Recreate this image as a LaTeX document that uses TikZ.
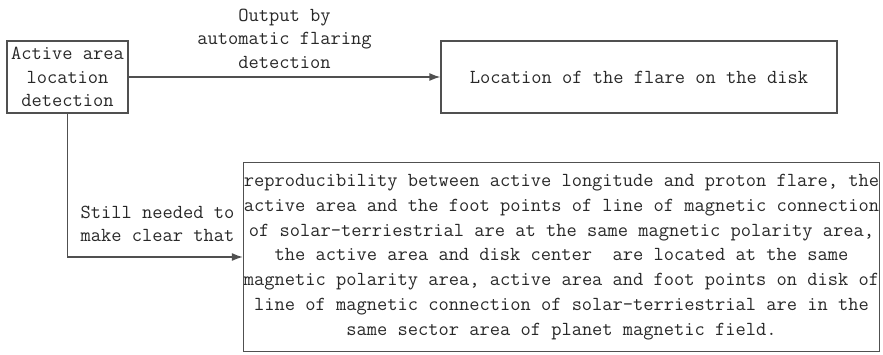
\documentclass[tikz,border=0pt]{standalone}
\usepackage{fontspec}
\usetikzlibrary{arrows.meta}
\definecolor{linec}{HTML}{505050}
\definecolor{textc}{HTML}{282828}
\tikzset{
  box/.style={draw=linec, line width=1.3pt, inner sep=0pt, align=center, text=textc,
    font=\ttfamily\fontsize{19.9}{23.5}\selectfont},
  lbl/.style={inner sep=0pt, align=center, text=textc, font=\ttfamily\fontsize{19.9}{23.5}\selectfont},
  conn/.style={draw=linec, line width=1.3pt, -{Latex[length=11pt,width=8pt]}}
}
\begin{document}
\begin{tikzpicture}[x=1pt,y=1pt]
\useasboundingbox (0,0) rectangle (883,-354);
\node[box, minimum width=121, minimum height=72] (a) at (67.5,-77) {Active area\\location\\detection};
\node[box, minimum width=396, minimum height=72] (b) at (639,-77) {Location of the flare on the disk};
\node[box, minimum width=636, minimum height=189, font=\ttfamily\fontsize{19.9}{24.8}\selectfont] (c) at (561.5,-257) {reproducibility between active longitude and proton flare, the\\active area and the foot points of line of magnetic connection\\of solar-terriestrial are at the same magnetic polarity area,\\the active area and disk center~ are located at the same\\magnetic polarity area, active area and foot points on disk of\\line of magnetic connection of solar-terriestrial are in the\\same sector area of planet magnetic field.};
\draw[conn] (a.east) -- (b.west) node[lbl, pos=0.5, above=8pt] (l1) {Output by\\automatic flaring\\detection};
\draw[conn] (a.south) |- (c.west) node[lbl, pos=0.5, xshift=90pt, yshift=33pt] (l2) {Still needed to\\make clear that};
\end{tikzpicture}
\end{document}
